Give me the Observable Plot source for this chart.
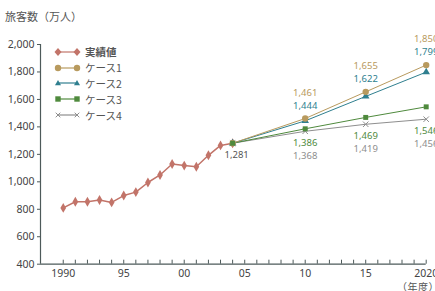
<!DOCTYPE html>
<html><head><meta charset="utf-8">
<script src="https://cdn.jsdelivr.net/npm/d3@7"></script>
<script src="https://cdn.jsdelivr.net/npm/@observablehq/plot@0.6"></script>
<style>
body{margin:0;background:#fff;font-family:"Noto Sans","Noto Sans CJK JP",sans-serif;}
#wrap{position:relative;width:435px;height:291px;overflow:hidden;}
#wrap svg.plot{position:absolute;left:0;top:0;}
.title{position:absolute;left:5px;top:8px;font-size:11px;color:#555;font-family:"Noto Sans CJK JP",sans-serif;}
.unit{position:absolute;left:397px;top:279px;font-size:10px;color:#555;font-family:"Noto Sans CJK JP",sans-serif;letter-spacing:0.5px;}
.legend{position:absolute;left:54px;top:44px;font-size:10.5px;color:#555;font-family:"Noto Sans CJK JP",sans-serif;}
.legend .row{height:15.8px;display:flex;align-items:center;}
.legend .row span{margin-left:3px;}
</style></head>
<body><div id="wrap"></div>
<script>
const years = [1990,1991,1992,1993,1994,1995,1996,1997,1998,1999,2000,2001,2002,2003,2004];
const actual = [810,855,855,868,850,900,925,995,1050,1130,1118,1110,1193,1265,1281];
const caseYears = [2004,2010,2015,2020];
const case1 = [1281,1461,1655,1850];
const case2 = [1281,1444,1622,1799];
const case3 = [1281,1386,1469,1546];
const case4 = [1281,1368,1419,1456];
const seriesNames = ["実績値","ケース1","ケース2","ケース3","ケース4"];
const yTicks = [400,600,800,1000,1200,1400,1600,1800,2000];
const xLabelTicks = [1990,1995,2000,2005,2010,2015,2020];
const xMinorTicks = d3.range(1990,2021);

const colors = {"実績値":"#c27469","ケース1":"#b89a5e","ケース2":"#2f7f8f","ケース3":"#4f8a3d","ケース4":"#8e8e8e"};
const symbols = {"実績値":"diamond","ケース1":"circle","ケース2":"triangle","ケース3":"square","ケース4":"times"};

const act = years.map((x,i)=>({x,y:actual[i]}));
const mk = arr => caseYears.map((x,i)=>({x,y:arr[i]}));
const c1=mk(case1), c2=mk(case2), c3=mk(case3), c4=mk(case4);
const lab = (arr) => caseYears.slice(1).map((x,i)=>({x,y:arr[i+1]}));
const fmt = d3.format(",");
const ax = "#4d5a5a";

const plot = Plot.plot({
  width:435, height:291,
  marginLeft:40, marginRight:9.3, marginTop:44, marginBottom:27.3,
  x:{domain:[1988.12,2020], label:null},
  y:{domain:[400,2000], label:null},
  style:{fontFamily:"Noto Sans, sans-serif", fontSize:"10px", color:"#444", overflow:"visible"},
  marks:[
    Plot.axisY({ticks:yTicks, tickFormat:fmt, tickSize:3, tickPadding:3, stroke:ax, fill:"#444", fontSize:10.5, label:null}),
    Plot.axisX({ticks:xMinorTicks, tickFormat:()=>"", tickSize:-4, stroke:ax, label:null}),
    Plot.axisX({ticks:xLabelTicks, tickSize:0, tickPadding:5, fill:"#444", fontSize:10.5, label:null,
      tickFormat:d=> (d===1990||d===2020)? String(d) : String(d%100).padStart(2,"0")}),
    Plot.ruleY([400],{stroke:ax, strokeWidth:1.2}),
    Plot.ruleX([1988.12],{stroke:ax, strokeWidth:1.2}),
    Plot.line(c4,{x:"x",y:"y",stroke:colors["ケース4"],strokeWidth:1}),
    Plot.line(c3,{x:"x",y:"y",stroke:colors["ケース3"],strokeWidth:1}),
    Plot.line(c2,{x:"x",y:"y",stroke:colors["ケース2"],strokeWidth:1}),
    Plot.line(c1,{x:"x",y:"y",stroke:colors["ケース1"],strokeWidth:1}),
    Plot.line(act,{x:"x",y:"y",stroke:colors["実績値"],strokeWidth:1.5}),
    Plot.dot(act,{x:"x",y:"y",symbol:"diamond",fill:colors["実績値"],r:3}),
    Plot.dot(c4,{x:"x",y:"y",symbol:"times",stroke:colors["ケース4"],r:2.6,strokeWidth:1}),
    Plot.dot(c2,{x:"x",y:"y",symbol:"triangle",fill:colors["ケース2"],r:2.8}),
    Plot.dot(c1,{x:"x",y:"y",symbol:"circle",fill:colors["ケース1"],r:3.2}),
    Plot.dot(c3,{x:"x",y:"y",symbol:"square",fill:colors["ケース3"],r:2.8}),
    Plot.text(lab(case1),{x:"x",y:"y",text:(d,i)=>fmt(case1[i+1]),dy:-26,fill:colors["ケース1"],fontSize:9.5}),
    Plot.text(lab(case1),{x:"x",y:"y",text:(d,i)=>fmt(case2[i+1]),dy:-13,fill:colors["ケース2"],fontSize:9.5}),
    Plot.text(lab(case4),{x:"x",y:"y",text:(d,i)=>fmt(case3[i+1]),dy:11.5,fill:colors["ケース3"],fontSize:9.5}),
    Plot.text(lab(case4),{x:"x",y:"y",text:(d,i)=>fmt(case4[i+1]),dy:24.5,fill:colors["ケース4"],fontSize:9.5}),
    Plot.text([act[act.length-1]],{x:"x",y:"y",text:d=>fmt(d.y),dx:4,dy:12,fill:"#555",fontSize:9.5})
  ]
});
plot.classList.add("plot");
const wrap = document.getElementById("wrap");
wrap.appendChild(plot);

const t = document.createElement("div"); t.className="title"; t.textContent="旅客数（万人）"; wrap.appendChild(t);
const u = document.createElement("div"); u.className="unit"; u.textContent="（年度）"; wrap.appendChild(u);

const lg = document.createElement("div"); lg.className="legend";
const sym = (name, cx, cy) => {
  const c = colors[name];
  switch(symbols[name]){
    case "diamond": return `<path d="M${cx} ${cy-4}L${cx+3.5} ${cy}L${cx} ${cy+4}L${cx-3.5} ${cy}Z" fill="${c}"/>`;
    case "circle": return `<circle cx="${cx}" cy="${cy}" r="3.2" fill="${c}"/>`;
    case "triangle": return `<path d="M${cx} ${cy-3}L${cx+3} ${cy+2.2}L${cx-3} ${cy+2.2}Z" fill="${c}"/>`;
    case "square": return `<rect x="${cx-2.7}" y="${cy-2.7}" width="5.4" height="5.4" fill="${c}"/>`;
    case "times": return `<path d="M${cx-2.3} ${cy-2.3}L${cx+2.3} ${cy+2.3}M${cx-2.3} ${cy+2.3}L${cx+2.3} ${cy-2.3}" stroke="${c}" stroke-width="1"/>`;
  }
};
lg.innerHTML = seriesNames.map(n=>`<div class="row"><svg width="28" height="12"><line x1="4" x2="23" y1="6" y2="6" stroke="${colors[n]}" stroke-width="1.2"/>${sym(n,4,6)}${sym(n,23,6)}</svg><span style="${n==="実績値"?"font-weight:bold;":""}">${n}</span></div>`).join("");
wrap.appendChild(lg);
</script></body></html>
